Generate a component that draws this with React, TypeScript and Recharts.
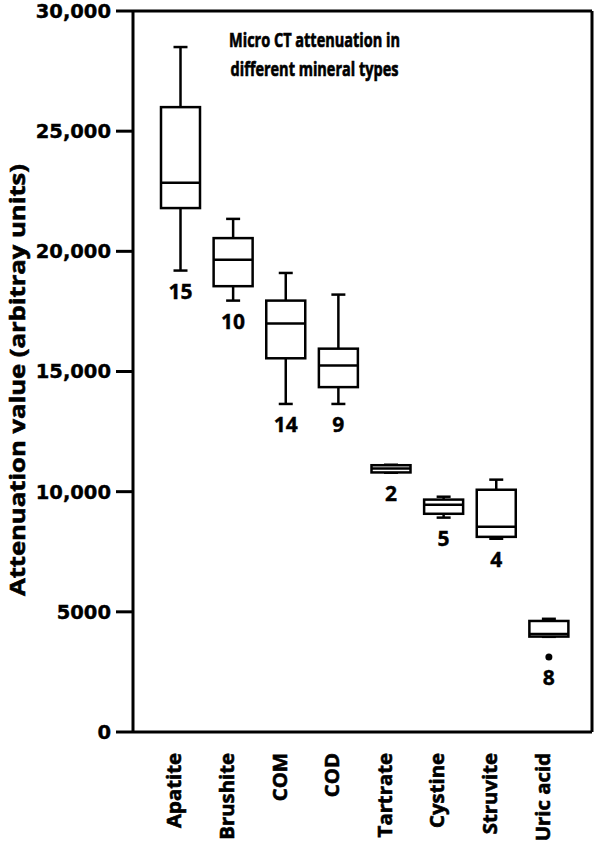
import React from 'react';
import { ComposedChart, Bar, XAxis, YAxis } from 'recharts';

const minerals = ['Apatite', 'Brushite', 'COM', 'COD', 'Tartrate', 'Cystine', 'Struvite', 'Uric acid'];
const whiskerLow = [19200, 17950, 13650, 13650, 10790, 8920, 8040, 3960];
const q1Values = [21800, 18550, 15550, 14350, 10800, 9080, 8120, 3970];
const medianValues = [22850, 19650, 17000, 15250, 10960, 9460, 8540, 4080];
const q3Values = [26000, 20550, 17950, 15950, 11100, 9670, 10080, 4620];
const whiskerHigh = [28500, 21350, 19100, 18200, 11120, 9790, 10500, 4710];
const outlierValues: (number | null)[] = [null, null, null, null, null, null, null, 3120];
const counts = [15, 10, 14, 9, 2, 5, 4, 8];
const yTicks = [0, 5000, 10000, 15000, 20000, 25000, 30000];
const titleLines = ['Micro CT attenuation in', 'different mineral types'];

const data = minerals.map((name, i) => ({
  name,
  range: [whiskerLow[i], whiskerHigh[i]],
  lo: whiskerLow[i],
  q1: q1Values[i],
  med: medianValues[i],
  q3: q3Values[i],
  hi: whiskerHigh[i],
  out: outlierValues[i],
  n: counts[i],
}));

const LINE = 2.5;

const BoxShape = (props: any) => {
  const { x, y, width, height, payload } = props;
  if (!payload) return null;
  const top = Math.min(y, y + height);
  const h = Math.abs(height);
  const { lo, q1, med, q3, hi, out, n } = payload;
  const k = h / (hi - lo);
  const py = (v: number) => top + (hi - v) * k;
  const cx = x + width / 2;
  const cap = 7;
  const lowest = out != null ? Math.max(py(out), py(lo)) : py(lo);
  return (
    <g>
      <line x1={cx} x2={cx} y1={py(hi)} y2={py(q3)} stroke="#000" strokeWidth={LINE} />
      <line x1={cx} x2={cx} y1={py(q1)} y2={py(lo)} stroke="#000" strokeWidth={LINE} />
      <line x1={cx - cap} x2={cx + cap} y1={py(hi)} y2={py(hi)} stroke="#000" strokeWidth={LINE} />
      <line x1={cx - cap} x2={cx + cap} y1={py(lo)} y2={py(lo)} stroke="#000" strokeWidth={LINE} />
      <rect x={x} y={py(q3)} width={width} height={py(q1) - py(q3)} fill="#fff" stroke="#000" strokeWidth={LINE} />
      <line x1={x} x2={x + width} y1={py(med)} y2={py(med)} stroke="#000" strokeWidth={LINE} />
      {out != null && <circle cx={cx} cy={py(out)} r={3.5} fill="#000" />}
      <text
        x={cx}
        y={lowest + 28}
        textAnchor="middle"
        fontFamily="'Open Sans', sans-serif"
        fontWeight={700}
        fontSize={21}
        fill="#000"
        stroke="#000"
        strokeWidth={0.4}
      >
        {n}
      </text>
    </g>
  );
};

const CategoryTick = (props: any) => {
  const { x, y, payload } = props;
  return (
    <text
      transform={`translate(${x + 1},${y + 13}) scale(1,1.07) rotate(-90)`}
      textAnchor="end"
      fontFamily="'Open Sans', sans-serif"
      fontWeight={700}
      fontSize={19}
      fill="#000"
      stroke="#000"
      strokeWidth={0.6}
    >
      {payload.value}
    </text>
  );
};

const fmt = (v: number) => (v >= 10000 ? v.toLocaleString('en-US') : String(v));

const YTitle = () => (
  <text
    transform={`translate(25,380) scale(1,1.22) rotate(-90)`}
    textAnchor="middle"
    fontFamily="'Open Sans', sans-serif"
    fontWeight={700}
    fontSize={21}
    fill="#000"
    stroke="#000"
    strokeWidth={0.6}
  >
    Attenuation value (arbitray units)
  </text>
);

export default function App() {
  return (
    <div style={{ position: 'absolute', left: 0, top: 0, width: 600, height: 844, background: '#fff' }}>
      <ComposedChart width={600} height={844} data={data} margin={{ top: 0, right: 0, bottom: 0, left: 0 }} barSize={39}>
        <XAxis
          dataKey="name"
          xAxisId={0}
          height={112}
          interval={0}
          tickLine={false}
          tick={<CategoryTick />}
          axisLine={{ stroke: '#000', strokeWidth: 3 }}
          padding={{ left: 21, right: 17 }}
        />
        <XAxis xAxisId="top" orientation="top" height={11} tick={false} tickLine={false} axisLine={{ stroke: '#000', strokeWidth: 3 }} />
        <YAxis
          yAxisId={0}
          width={133}
          domain={[0, 30000]}
          ticks={yTicks}
          tickFormatter={fmt}
          tickSize={17}
          tickMargin={5}
          tickLine={{ stroke: '#000', strokeWidth: 3 }}
          axisLine={{ stroke: '#000', strokeWidth: 3 }}
          tick={{ fontFamily: "'DejaVu Sans', sans-serif", fontWeight: 700, fontSize: 19.5, fill: '#000', stroke: '#000', strokeWidth: 0.4 }}
          label={{ content: () => <YTitle /> }}
        />
        <YAxis yAxisId="right" orientation="right" width={8} domain={[0, 30000]} tick={false} tickLine={false} axisLine={{ stroke: '#000', strokeWidth: 3 }} />
        <Bar dataKey="range" xAxisId={0} yAxisId={0} shape={<BoxShape />} isAnimationActive={false} />
      </ComposedChart>
      <svg width={600} height={100} style={{ position: 'absolute', left: 0, top: 0, pointerEvents: 'none' }}>
        {titleLines.map((t, i) => (
          <text
            key={t}
            transform={`translate(314.5,${47 + i * 29}) scale(1,1.4)`}
            textAnchor="middle"
            fontFamily="'Open Sans', sans-serif"
            fontWeight={700}
            fontSize={14.5}
            fill="#000"
            stroke="#000"
            strokeWidth={0.5}
          >
            {t}
          </text>
        ))}
      </svg>
    </div>
  );
}
